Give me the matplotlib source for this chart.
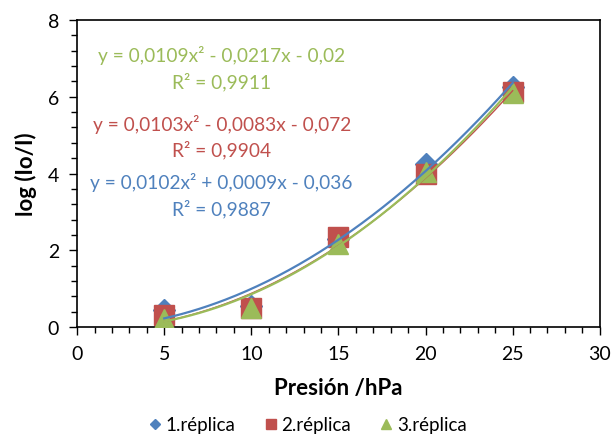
import numpy as np
import matplotlib.pyplot as plt
from matplotlib.ticker import MultipleLocator

plt.rcParams['font.family'] = ['Lato', 'DejaVu Sans']

presion = [5, 10, 15, 20, 25]
replica1 = [0.45, 0.55, 2.3, 4.25, 6.25]
replica2 = [0.3, 0.5, 2.34, 4.0, 6.12]
replica3 = [0.2, 0.5, 2.15, 4.05, 6.1]

# coeficientes de las lineas de tendencia (a, b, c) y R²
coef1 = (0.0102, 0.0009, -0.036)
coef2 = (0.0103, -0.0083, -0.072)
coef3 = (0.0109, -0.0217, -0.02)
r2 = [0.9887, 0.9904, 0.9911]

azul = '#4F81BD'
rojo = '#C0504D'
verde = '#9BBB59'

fig = plt.figure(figsize=(6.12, 4.39), dpi=100)
ax = fig.add_axes([0.126, 0.253, 0.854, 0.699])

ax.plot(presion, replica1, 'D', color=azul, ms=11, label='1.réplica', zorder=3)
ax.plot(presion, replica2, 's', color=rojo, ms=14, label='2.réplica', zorder=3)
ax.plot(presion, replica3, '^', color=verde, ms=15, label='3.réplica', zorder=3)

xs = np.linspace(5, 25, 200)
for (a, b, c), col, lw in [(coef1, azul, 1.6), (coef2, rojo, 1.0), (coef3, verde, 1.6)]:
    ax.plot(xs, a * xs**2 + b * xs + c, color=col, lw=lw, zorder=4)


def fmt(v, dec):
    return f"{abs(v):.{dec}f}".replace('.', ',')


def ecuacion(coef):
    a, b, c = coef
    sb = '+' if b >= 0 else '-'
    sc = '+' if c >= 0 else '-'
    db = len(str(abs(b)).split('.')[1])
    dc = len(str(abs(c)).split('.')[1])
    return f"y = {fmt(a, 4)}x² {sb} {fmt(b, db)}x {sc} {fmt(c, dc)}"


for coef, r, col, yeq, yr in [(coef3, r2[2], verde, 7.1, 6.4),
                              (coef2, r2[1], rojo, 5.3, 4.65),
                              (coef1, r2[0], azul, 3.8, 3.1)]:
    ax.text(8.3, yeq, ecuacion(coef), color=col, fontsize=13.8, ha='center', va='center')
    ax.text(8.3, yr, f"R² = {fmt(r, 4)}", color=col, fontsize=13.8, ha='center', va='center')

ax.set_xlim(0, 30)
ax.set_ylim(0, 8)
ax.xaxis.set_major_locator(MultipleLocator(5))
ax.xaxis.set_minor_locator(MultipleLocator(1))
ax.yaxis.set_major_locator(MultipleLocator(2))
ax.yaxis.set_minor_locator(MultipleLocator(0.4))
ax.tick_params(which='major', direction='out', length=6, width=1, labelsize=14, pad=7)
ax.tick_params(which='minor', direction='out', length=4, width=1)
for s in ax.spines.values():
    s.set_linewidth(1.2)
    s.set_color('black')

ax.set_xlabel('Presión /hPa', fontsize=16, fontweight='bold', labelpad=11)
ax.set_ylabel('log (Io/I)', fontsize=16, fontweight='bold', labelpad=8)

leg = fig.legend(loc='lower center', ncol=3, frameon=False, fontsize=13.5,
                 bbox_to_anchor=(0.5, -0.028), handletextpad=0.05, columnspacing=1.4,
                 markerscale=0.5, handlelength=1.0)

fig.savefig('out.png', dpi=100)
